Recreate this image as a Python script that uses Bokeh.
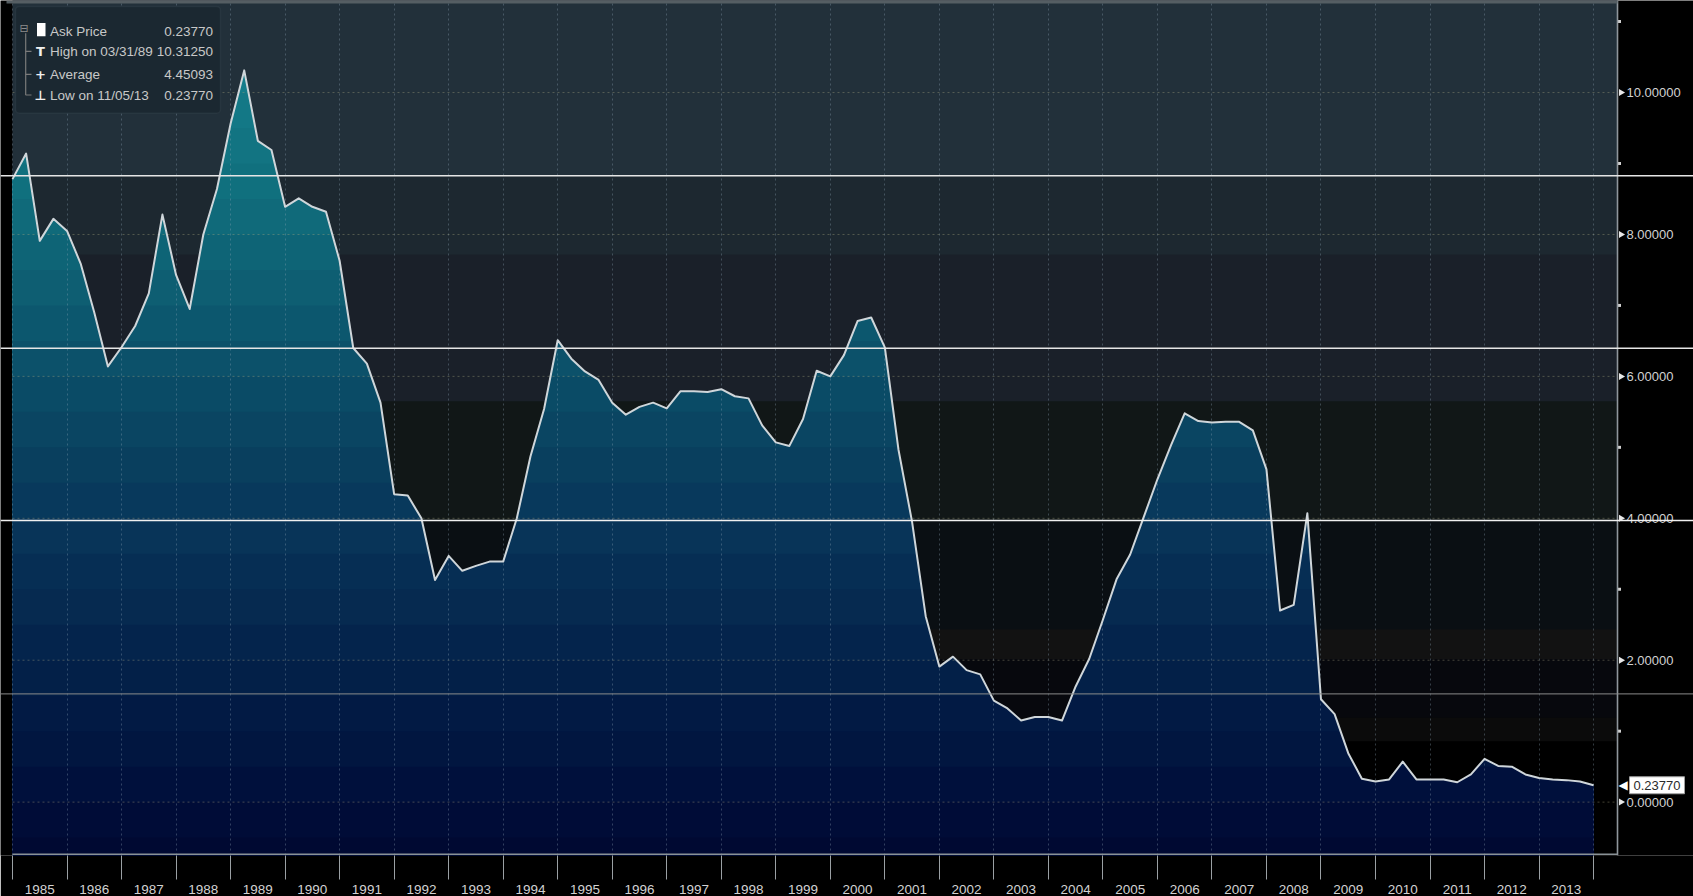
import numpy as np
import pandas as pd
from bokeh.plotting import figure
from bokeh.models import (Range1d, FixedTicker, CustomJSTickFormatter, Span, Label, BoxAnnotation)
from bokeh.core.properties import value
from bokeh.embed import file_html
from bokeh.resources import INLINE

# ---------------- data ----------------
quarters = pd.period_range("1984Q4", "2013Q4", freq="Q")   # quarter-end observations
ask_price = [
    8.78, 9.14, 7.91, 8.22, 8.05, 7.59, 6.90, 6.14, 6.41, 6.71, 7.17, 8.28,     # 1985-1987
    7.43, 6.95, 8.00, 8.64, 9.56, 10.3125, 9.32, 9.19, 8.39, 8.51, 8.39, 8.32,  # 1988-1990
    7.63, 6.40, 6.18, 5.63, 4.34, 4.32, 4.00, 3.13, 3.47, 3.26, 3.33, 3.39,     # 1991-1993
    3.39, 4.00, 4.87, 5.54, 6.51, 6.25, 6.07, 5.95, 5.63, 5.46, 5.57, 5.63,     # 1994-1996
    5.55, 5.79, 5.79, 5.78, 5.82, 5.72, 5.69, 5.31, 5.07, 5.02, 5.40, 6.08,     # 1997-1999
    6.00, 6.30, 6.78, 6.83, 6.41, 4.97, 3.95, 2.62, 1.91, 2.05, 1.86, 1.80,     # 2000-2002
    1.43, 1.32, 1.15, 1.20, 1.20, 1.15, 1.63, 2.02, 2.57, 3.14, 3.49, 4.02,     # 2003-2005
    4.55, 5.03, 5.48, 5.37, 5.35, 5.36, 5.36, 5.24, 4.69, 2.70, 2.78, 4.07,     # 2006-2008
    1.45, 1.24, 0.69, 0.33, 0.29, 0.32, 0.57, 0.32, 0.32, 0.32, 0.28, 0.39,     # 2009-2011
    0.61, 0.51, 0.50, 0.39, 0.34, 0.32, 0.31, 0.29, 0.2377,                     # 2012-2013
]
year_boundaries = list(range(1985, 2015))
year_labels = [str(yr) for yr in range(1985, 2014)]
price_ticks = [0, 2, 4, 6, 8, 10]
price_minor_ticks = [1, 3, 5, 7, 9, 11]
price_tick_labels = ["0.00000", "2.00000", "4.00000", "6.00000", "8.00000", "10.00000"]
legend_names = ["Ask Price", "High on 03/31/89", "Average", "Low on 11/05/13"]
legend_values = ["0.23770", "10.31250", "4.45093", "0.23770"]
last_value_text = "0.23770"

x = np.asarray(quarters.year, dtype=float) + np.asarray(quarters.quarter, dtype=float) * 0.25
y = np.asarray(ask_price, dtype=float)

# ---------------- layout constants ----------------
W, H = 1693, 896
PX_PLOT_LEFT, PX_PLOT_RIGHT = 12, 1617      # the chart panel inside the full-width frame
PX_FRAME_BOTTOM = 873
PX_PER_YEAR = 54.52
ZERO_PY = 818.5
PX_PER_UNIT = 72.45
X0 = 1985.0


def dx(px):
    return X0 + (px - PX_PLOT_LEFT) / PX_PER_YEAR


def dy(py):
    return (ZERO_PY - py) / PX_PER_UNIT


FONT = "Liberation Sans"
TXT = "#d2d2d2"

p = figure(width=W, height=H,
           x_range=Range1d(dx(0), dx(W)), y_range=Range1d(dy(PX_FRAME_BOTTOM), dy(0)),
           y_axis_location=None, toolbar_location=None, output_backend="svg",
           min_border_left=0, min_border_right=0, min_border_top=0,
           min_border_bottom=H - PX_FRAME_BOTTOM,
           background_fill_color="#000000", border_fill_color="#000000",
           outline_line_color=None)

# ---------------- background bands (screen shading) ----------------
bg_bands = [  # (from pixel row, to pixel row, colour)
    (-2, 179, "#22303a"), (179, 260, "#1d2830"), (260, 410, "#1a2029"),
    (410, 531, "#111717"), (531, 643, "#0a0f13"), (643, 673, "#121212"),
    (673, 733, "#07080d"), (733, 757, "#0b0b0b"), (757, 880, "#000000"),
]
nb = len(bg_bands)
p.quad(left=[dx(PX_PLOT_LEFT)] * nb, right=[dx(PX_PLOT_RIGHT)] * nb,
       top=[dy(a) + 0.01 for a, b, c in bg_bands], bottom=[dy(b) - 0.01 for a, b, c in bg_bands],
       fill_color=[c for a, b, c in bg_bands], line_color=None, level="image")

# ---------------- banded gradient area fill ----------------
fill_anchors = [(-0.75, (0, 9, 50)), (0.0, (0, 14, 58)), (1.0, (1, 24, 66)), (2.0, (4, 34, 74)),
                (3.0, (6, 44, 82)), (4.0, (8, 54, 90)), (5.0, (9, 66, 96)), (6.0, (11, 78, 104)),
                (7.0, (13, 90, 112)), (8.0, (15, 104, 120)), (9.0, (17, 114, 128)),
                (10.5, (21, 126, 140))]
band_edges = np.arange(-1.0, 11.51, 0.5)


def band_color(v):
    vs = [a for a, c in fill_anchors]
    rgb = [int(round(np.interp(v, vs, [c[i] for a, c in fill_anchors]))) for i in range(3)]
    return "#%02x%02x%02x" % tuple(rgb)


def split_at_levels(xs, ys, levels):
    """Insert the points where the polyline crosses each band edge (rendering only)."""
    ox, oy = [xs[0]], [ys[0]]
    for i in range(len(xs) - 1):
        x0, y0, x1, y1 = xs[i], ys[i], xs[i + 1], ys[i + 1]
        if y1 != y0:
            cuts = sorted((L - y0) / (y1 - y0) for L in levels if min(y0, y1) < L < max(y0, y1))
            for f in cuts:
                ox.append(x0 + f * (x1 - x0))
                oy.append(y0 + f * (y1 - y0))
        ox.append(x1)
        oy.append(y1)
    return np.array(ox), np.array(oy)


fx, fy = split_at_levels(x, y, band_edges)
for k in range(len(band_edges) - 1, 0, -1):
    lo, hi = band_edges[k - 1], band_edges[k]
    p.varea(x=fx, y1=np.full_like(fx, -1.5), y2=np.minimum(fy, hi),
            fill_color=band_color((lo + hi) / 2), level="image")

# ---------------- grid ----------------
p.xgrid.ticker = FixedTicker(ticks=year_boundaries)
p.xgrid.grid_line_color = "#8fa6b8"
p.xgrid.grid_line_alpha = 0.35
p.xgrid.grid_line_dash = "2 3"
p.ygrid.visible = False
p.segment(x0=[dx(PX_PLOT_LEFT)] * len(price_ticks), x1=[dx(PX_PLOT_RIGHT)] * len(price_ticks),
          y0=price_ticks, y1=price_ticks, line_color="#a8a680", line_alpha=0.4,
          line_dash="2 3", line_width=1, level="underlay")

# ---------------- price line ----------------
p.line(x, y, line_color="#cfd6da", line_width=2, line_join="round")

# ---------------- bottom axis (years) ----------------
xa = p.xaxis[0]
xa.ticker = FixedTicker(ticks=[int(s) + 0.5 for s in year_labels], minor_ticks=year_boundaries)
xa.formatter = CustomJSTickFormatter(code="return String(Math.floor(tick))")
xa.major_tick_line_color = None
xa.major_tick_out = 0
xa.major_tick_in = 0
xa.minor_tick_in = 0
xa.minor_tick_out = 24
xa.minor_tick_line_color = "#9aa0a4"
xa.axis_line_color = None
xa.major_label_text_color = TXT
xa.major_label_text_font = FONT
xa.major_label_text_font_size = "13.5px"
xa.major_label_standoff = 5
p.segment(x0=[dx(PX_PLOT_LEFT)], x1=[dx(PX_PLOT_RIGHT)], y0=[dy(871.8)], y1=[dy(871.8)],
          line_color="#8a9296", line_width=1.6, level="overlay")

# ---------------- right price scale (drawn at the panel edge) ----------------
p.add_layout(Span(location=dx(PX_PLOT_RIGHT), dimension="height", line_color="#8f969c",
                  line_width=1.6))
p.scatter(x=[dx(PX_PLOT_RIGHT + 3.5)] * len(price_ticks), y=price_ticks, marker="triangle",
          angle=-np.pi / 2, size=7, fill_color="#e8e8e8", line_color=None)
p.scatter(x=[dx(PX_PLOT_RIGHT + 2)] * len(price_minor_ticks), y=price_minor_ticks,
          marker="square", size=3, fill_color="#d0d0d0", line_color=None)
p.text(x=[dx(PX_PLOT_RIGHT + 9)] * len(price_ticks), y=price_ticks, text=price_tick_labels,
       text_font=value(FONT), text_font_size="13px", text_color=TXT,
       text_baseline="middle", text_align="left")

# ---------------- top strip ----------------
p.add_layout(BoxAnnotation(top=dy(0), bottom=dy(3), left=dx(6), right=dx(PX_PLOT_RIGHT),
                           fill_color="#555e63", fill_alpha=1, line_color=None))

# ---------------- legend panel ----------------
p.add_layout(BoxAnnotation(left=dx(15), right=dx(220), top=dy(6), bottom=dy(115),
                           fill_color="#1b2831", fill_alpha=1, line_color="#3e4b55",
                           line_width=1.5, border_radius=4))
p.add_layout(BoxAnnotation(left=dx(24.6), right=dx(25.8), top=dy(33.5), bottom=dy(96.5),
                           fill_color="#7a7a7a", fill_alpha=1, line_color=None))
rows_y = [31.5, 52, 75.5, 96.5]
for ry in rows_y[1:]:
    p.add_layout(BoxAnnotation(left=dx(25), right=dx(31), top=dy(ry - 0.6), bottom=dy(ry + 0.6),
                               fill_color="#7a7a7a", fill_alpha=1, line_color=None))
p.add_layout(BoxAnnotation(left=dx(36.5), right=dx(45), top=dy(23), bottom=dy(36.5),
                           fill_color="#ffffff", fill_alpha=1, line_color=None))
p.add_layout(Label(x=dx(23.6), y=dy(28.5), text="⊟", text_align="center", text_baseline="middle",
                   text_font="DejaVu Sans", text_font_size="11px", text_color="#8c8c8c"))
icons = [None, "T", "+", "⊥"]
for ic, ry in zip(icons, rows_y):
    if ic:
        p.add_layout(Label(x=dx(40), y=dy(ry), text=ic, text_align="center",
                           text_baseline="middle", text_font="DejaVu Sans",
                           text_font_size="13px", text_font_style="bold", text_color="#f0f0f0"))
for name, val, ry in zip(legend_names, legend_values, rows_y):
    p.add_layout(Label(x=dx(49.5), y=dy(ry), text=name, text_align="left", text_baseline="middle",
                       text_font=FONT, text_font_size="13.5px", text_color="#c8c8c8"))
    p.add_layout(Label(x=dx(212.5), y=dy(ry), text=val, text_align="right",
                       text_baseline="middle", text_font=FONT, text_font_size="13.5px",
                       text_color="#c8c8c8"))

# ---------------- scan-line artefacts ----------------
for py, col, lw in [(179, "#e6e6e6", 1.5), (355, "#e6e6e6", 1.5), (531, "#f0f0f0", 1.5),
                    (708, "#8a8a8a", 1)]:
    p.add_layout(Span(location=dy(py), dimension="width", line_color=col, line_width=lw,
                      level="overlay"))

# ---------------- last value tag ----------------
p.add_layout(Label(x=dx(PX_PLOT_RIGHT + 1), y=y[-1], text="◀", text_align="left",
                   text_baseline="middle", text_font="DejaVu Sans", text_font_size="12px",
                   text_color="#ffffff"))
p.add_layout(Label(x=dx(PX_PLOT_RIGHT + 12), y=y[-1], text=last_value_text, text_align="left",
                   text_baseline="middle", text_font=FONT, text_font_size="13px",
                   text_color="#2a2a2a", background_fill_color="#ffffff",
                   border_line_color="#a0a0a0", padding=4))

open("out.html", "w").write(file_html(p, INLINE))
